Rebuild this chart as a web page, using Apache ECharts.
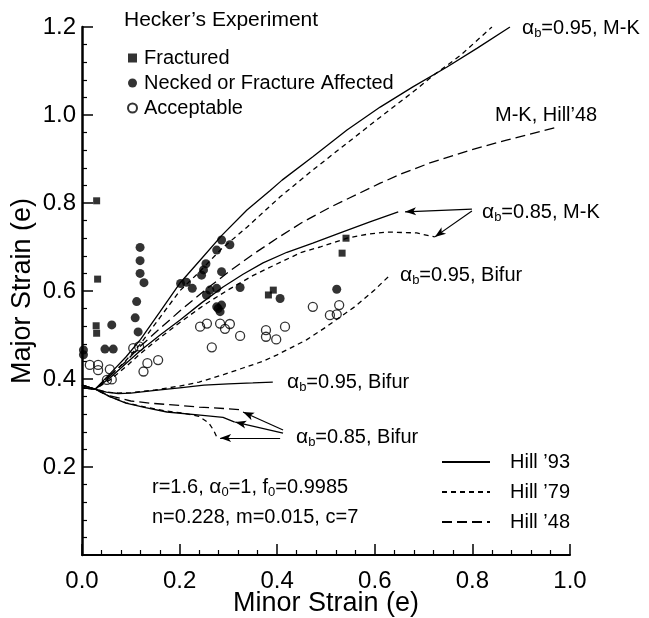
<!DOCTYPE html>
<html>
<head>
<meta charset="utf-8">
<script src="https://cdn.jsdelivr.net/npm/echarts@6/dist/echarts.min.js"></script>
<style>
  html, body { margin: 0; padding: 0; background: #fff; }
  #chart { width: 649px; height: 618px; }
</style>
</head>
<body>
<div id="chart"></div>
<script>
// Forming limit curves: M-K and bifurcation predictions for three yield criteria
const mk095Hill93 = [[0,0.38],[0.027,0.377],[0.06,0.415],[0.09,0.45],[0.12,0.49],[0.16,0.553],[0.2,0.617],[0.242,0.67],[0.287,0.727],[0.338,0.784],[0.385,0.828],[0.41,0.852],[0.473,0.905],[0.543,0.966],[0.611,1.018],[0.678,1.064],[0.748,1.109],[0.81,1.152],[0.877,1.2]];
const mk095Hill79 = [[0,0.38],[0.027,0.377],[0.06,0.41],[0.09,0.442],[0.12,0.48],[0.16,0.54],[0.2,0.6],[0.242,0.645],[0.287,0.697],[0.338,0.745],[0.406,0.814],[0.473,0.875],[0.543,0.936],[0.611,0.995],[0.678,1.052],[0.72,1.09],[0.775,1.135],[0.84,1.2]];
const mkHill48 = [[0,0.38],[0.027,0.377],[0.06,0.41],[0.09,0.44],[0.12,0.475],[0.16,0.515],[0.201,0.555],[0.25,0.6],[0.3,0.643],[0.35,0.683],[0.4,0.72],[0.45,0.755],[0.508,0.79],[0.549,0.812],[0.611,0.845],[0.658,0.868],[0.713,0.891],[0.795,0.92],[0.87,0.943],[0.975,0.973]];
const mk085Hill93 = [[0,0.38],[0.027,0.377],[0.06,0.405],[0.09,0.435],[0.12,0.465],[0.16,0.5],[0.201,0.534],[0.245,0.573],[0.289,0.609],[0.33,0.638],[0.371,0.664],[0.42,0.688],[0.473,0.709],[0.529,0.732],[0.59,0.757],[0.648,0.78]];
const mk085Hill79 = [[0,0.38],[0.027,0.377],[0.06,0.4],[0.09,0.428],[0.12,0.458],[0.16,0.494],[0.2,0.528],[0.25,0.568],[0.3,0.603],[0.35,0.635],[0.406,0.665],[0.45,0.688],[0.488,0.7],[0.543,0.72],[0.585,0.729],[0.625,0.734],[0.686,0.732],[0.713,0.725],[0.723,0.723]];
const bif095Hill93 = [[0,0.386],[0.027,0.377],[0.05,0.37],[0.074,0.367],[0.1,0.368],[0.15,0.374],[0.2,0.38],[0.25,0.386],[0.3,0.389],[0.35,0.391],[0.391,0.393]];
const bif095Hill79 = [[0,0.386],[0.027,0.377],[0.05,0.37],[0.074,0.368],[0.1,0.369],[0.15,0.375],[0.2,0.384],[0.24,0.393],[0.29,0.41],[0.33,0.425],[0.37,0.44],[0.4,0.455],[0.46,0.489],[0.5,0.518],[0.52,0.534],[0.56,0.565],[0.6,0.603],[0.631,0.636]];
const bif085Hill93 = [[0,0.386],[0.027,0.377],[0.057,0.36],[0.09,0.345],[0.13,0.335],[0.174,0.325],[0.242,0.318],[0.289,0.313],[0.313,0.302]];
const bif085Hill79 = [[0,0.386],[0.027,0.377],[0.057,0.36],[0.09,0.346],[0.13,0.336],[0.174,0.327],[0.21,0.322],[0.24,0.315],[0.26,0.3],[0.27,0.283],[0.277,0.266]];
const bif085Hill48 = [[0,0.386],[0.027,0.377],[0.057,0.362],[0.1,0.35],[0.14,0.345],[0.2,0.34],[0.24,0.336],[0.29,0.333],[0.33,0.33]];

// Hecker's experimental strain measurements
const fractured = [[0.03,0.805],[0.032,0.627],[0.029,0.521],[0.03,0.504],[0.382,0.591],[0.392,0.602],[0.541,0.72],[0.533,0.686]];
const necked = [[0.003,0.466],[0.003,0.455],[0.061,0.523],[0.047,0.468],[0.064,0.468],[0.119,0.699],[0.119,0.669],[0.119,0.64],[0.127,0.619],[0.112,0.576],[0.109,0.539],[0.115,0.507],[0.202,0.617],[0.214,0.62],[0.226,0.606],[0.286,0.716],[0.276,0.693],[0.303,0.705],[0.254,0.662],[0.249,0.648],[0.245,0.636],[0.286,0.644],[0.276,0.606],[0.262,0.602],[0.255,0.591],[0.324,0.608],[0.276,0.564],[0.286,0.568],[0.283,0.553],[0.279,0.56],[0.406,0.583],[0.522,0.604]];
const acceptable = [[0.016,0.432],[0.033,0.432],[0.033,0.42],[0.057,0.422],[0.051,0.398],[0.061,0.399],[0.105,0.47],[0.117,0.474],[0.126,0.417],[0.134,0.436],[0.156,0.443],[0.242,0.519],[0.256,0.526],[0.283,0.526],[0.303,0.525],[0.293,0.514],[0.324,0.498],[0.266,0.472],[0.377,0.511],[0.377,0.496],[0.398,0.49],[0.416,0.519],[0.473,0.564],[0.508,0.545],[0.522,0.547],[0.527,0.568]];

// Leader arrows from the curve labels to the curve ends: [from, to]
const arrowsMK085 = [[[0.799,0.786],[0.662,0.78]],[[0.799,0.782],[0.723,0.723]]];
const arrowsBif085 = [[[0.412,0.284],[0.33,0.325]],[[0.412,0.277],[0.314,0.302]],[[0.406,0.266],[0.283,0.266]]];

const xTickValues = [0, 0.2, 0.4, 0.6, 0.8, 1.0];
const yTickValues = [0, 0.2, 0.4, 0.6, 0.8, 1.0, 1.2];

const FONT = 'Liberation Sans, Arial, sans-serif';
const styles = {
  "Hill \u201993": { type: 'solid' },
  "Hill \u201979": { type: [5, 4] },
  "Hill \u201948": { type: [10, 5] }
};

function curve(name, data) {
  return {
    type: 'line', name: name, data: data, symbol: 'none', smooth: false,
    itemStyle: { color: 'rgba(0,0,0,0)' },
    lineStyle: { color: '#000', width: 1.3, type: styles[name].type },
    silent: true, z: 2
  };
}

function arrowSeries(list) {
  return {
    type: 'line', name: 'arrows', data: [], silent: true,
    markLine: {
      silent: true, animation: false,
      label: { show: false },
      lineStyle: { color: '#000', width: 1.2, type: 'solid' },
      data: list.map(a => [
        { coord: a[0], symbol: 'none' },
        { coord: a[1], symbol: 'arrow', symbolSize: [6, 11] }
      ])
    }
  };
}

const richAlpha = {
  a: { fontSize: 21, fontFamily: FONT, color: '#000' },
  s: { fontSize: 13, fontFamily: FONT, color: '#000', padding: [9, 0, 0, 0] },
  t: { fontSize: 20, fontFamily: FONT, color: '#000' }
};

function note(x, y, text) {
  return {
    type: 'text', left: x, top: y - 10,
    style: { text: text, rich: richAlpha, font: '20px ' + FONT, fill: '#000' },
    silent: true
  };
}

const chart = echarts.init(document.getElementById('chart'), null, { renderer: 'canvas' });
chart.setOption({
  animation: false,
  backgroundColor: '#fff',
  grid: { left: 82, right: 79, top: 27, bottom: 63, containLabel: false, outerBoundsMode: 'none' },
  xAxis: {
    type: 'value', min: xTickValues[0], max: xTickValues[xTickValues.length - 1], interval: 0.2,
    name: 'Minor Strain (e)', nameLocation: 'middle', nameGap: 35, nameMoveOverlap: false,
    nameTextStyle: { fontSize: 27, fontFamily: FONT, color: '#000' },
    axisLine: { show: true, onZero: false, lineStyle: { color: '#000', width: 2 } },
    axisTick: { show: true, inside: true, length: 11, lineStyle: { color: '#000', width: 1.5 } },
    minorTick: { show: true, splitNumber: 5, length: 5, lineStyle: { color: '#000', width: 1.2 } },
    splitLine: { show: false },
    axisLabel: { fontSize: 24, fontFamily: FONT, color: '#000', margin: 14, formatter: v => v.toFixed(1) }
  },
  yAxis: {
    type: 'value', min: yTickValues[0], max: yTickValues[yTickValues.length - 1], interval: 0.2,
    name: 'Major Strain (e)', nameLocation: 'middle', nameGap: 46, nameMoveOverlap: false,
    nameTextStyle: { fontSize: 27, fontFamily: FONT, color: '#000' },
    axisLine: { show: true, onZero: false, lineStyle: { color: '#000', width: 2.5 } },
    axisTick: { show: true, inside: true, length: 11, lineStyle: { color: '#000', width: 1.5 } },
    minorTick: { show: true, splitNumber: 5, length: 5, lineStyle: { color: '#000', width: 1.2 } },
    splitLine: { show: false },
    axisLabel: { fontSize: 24, fontFamily: FONT, color: '#000', margin: 6, formatter: v => v === 0 ? '' : v.toFixed(1) }
  },
  legend: [
    {
      data: ['Fractured', 'Necked or Fracture Affected', 'Acceptable'],
      orient: 'vertical', left: 122, top: 43, itemWidth: 9, itemHeight: 9, itemGap: 5,
      selectedMode: false,
      textStyle: { fontSize: 20, fontFamily: FONT, color: '#000', padding: [0, 0, 0, 2] }
    },
    {
      data: ["Hill \u201993", "Hill \u201979", "Hill \u201948"],
      orient: 'vertical', left: 436, top: 447, itemWidth: 48, itemHeight: 14, itemGap: 10,
      selectedMode: false,
      itemStyle: { opacity: 0 },
      textStyle: { fontSize: 20, fontFamily: FONT, color: '#000', padding: [0, 0, 0, 15] }
    }
  ],
  graphic: [
    { type: 'text', left: 124, top: 10, style: { text: 'Hecker\u2019s Experiment', font: '21px ' + FONT, fill: '#000' }, silent: true },
    note(522, 28, '{a|\u03b1}{s|b}{t|=0.95, M-K}'),
    note(495, 115, '{t|M-K, Hill\u201948}'),
    note(482, 212, '{a|\u03b1}{s|b}{t|=0.85, M-K}'),
    note(400, 275, '{a|\u03b1}{s|b}{t|=0.95, Bifur}'),
    note(287, 382, '{a|\u03b1}{s|b}{t|=0.95, Bifur}'),
    note(296, 437, '{a|\u03b1}{s|b}{t|=0.85, Bifur}'),
    note(152, 487, '{t|r=1.6, }{a|\u03b1}{s|0}{t|=1, f}{s|0}{t|=0.9985}'),
    note(152, 517, '{t|n=0.228, m=0.015, c=7}')
  ],
  series: [
    curve("Hill \u201993", mk095Hill93),
    curve("Hill \u201979", mk095Hill79),
    curve("Hill \u201948", mkHill48),
    curve("Hill \u201993", mk085Hill93),
    curve("Hill \u201979", mk085Hill79),
    curve("Hill \u201993", bif095Hill93),
    curve("Hill \u201979", bif095Hill79),
    curve("Hill \u201993", bif085Hill93),
    curve("Hill \u201979", bif085Hill79),
    curve("Hill \u201948", bif085Hill48),
    arrowSeries(arrowsMK085),
    arrowSeries(arrowsBif085),
    {
      type: 'scatter', name: 'Fractured', data: fractured, symbol: 'rect', symbolSize: 7,
      itemStyle: { color: '#000' }, z: 3
    },
    {
      type: 'scatter', name: 'Necked or Fracture Affected', data: necked, symbol: 'circle', symbolSize: 9,
      itemStyle: { color: '#000' }, z: 3
    },
    {
      type: 'scatter', name: 'Acceptable', data: acceptable, symbol: 'circle', symbolSize: 9,
      itemStyle: { color: 'rgba(255,255,255,0)', borderColor: '#000', borderWidth: 1.3 }, z: 3
    }
  ]
});
</script>
</body>
</html>
